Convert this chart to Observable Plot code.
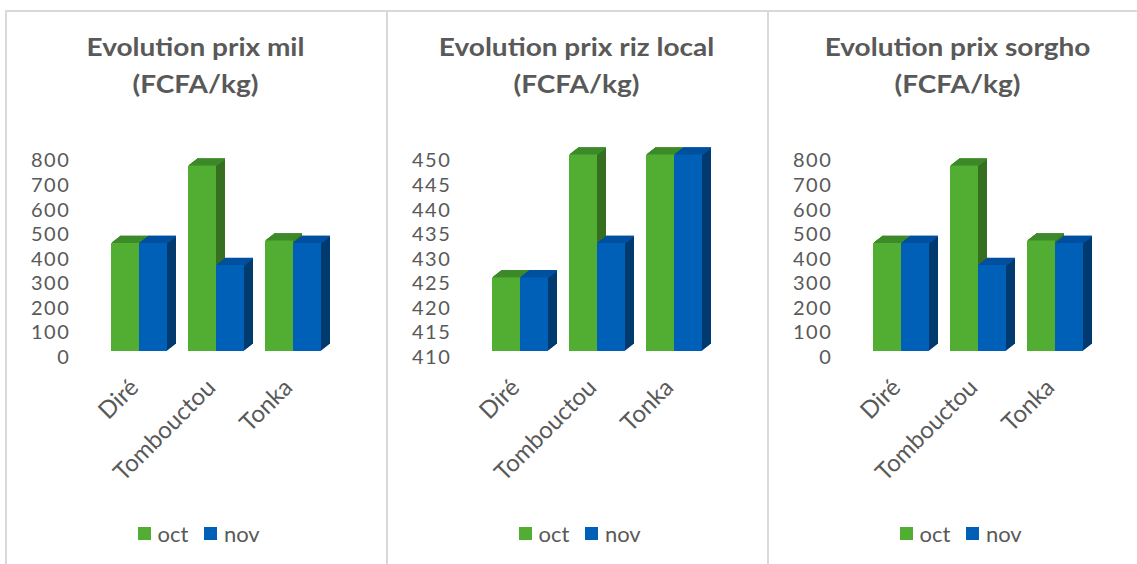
<!DOCTYPE html>
<html><head><meta charset="utf-8">
<script src="https://cdn.jsdelivr.net/npm/d3@7"></script>
<script src="https://cdn.jsdelivr.net/npm/@observablehq/plot@0.6"></script>
<style>
body{margin:0;background:#fff;width:1137px;height:564px;overflow:hidden;position:relative;font-family:Lato,sans-serif;}
.panel{position:absolute;top:10px;height:600px;width:381px;border-left:2px solid #d9d9d9;border-top:2px solid #d9d9d9;box-sizing:border-box;}
.title{position:absolute;top:28px;width:381px;text-align:center;font-weight:700;font-size:25px;line-height:37px;color:#595959;transform:scaleX(1.12);transform-origin:50% 50%;}
.chart{position:absolute;top:120px;width:381px;height:380px;}
.chart svg{overflow:visible;max-width:none;}
.chart svg g[aria-label="y-axis tick label"] text{letter-spacing:1.6px;}
.legend{position:absolute;top:520px;display:flex;align-items:center;font-size:22px;color:#595959;}
.sw{width:12.5px;height:12.5px;display:inline-block;margin-right:7px;}
.lab{margin-right:16px;}
</style></head><body>
<script>
const categories = ["Diré", "Tombouctou", "Tonka"];
const months = ["oct", "nov"];
const titles = [
  ["Evolution prix mil", "(FCFA/kg)"],
  ["Evolution prix riz local", "(FCFA/kg)"],
  ["Evolution prix sorgho", "(FCFA/kg)"]
];
const milOct = [440, 755, 450];
const milNov = [440, 350, 440];
const rizOct = [425, 450, 450];
const rizNov = [425, 432, 450];
const sorghoOct = [440, 755, 450];
const sorghoNov = [440, 350, 440];
const ticksPrix = [0, 100, 200, 300, 400, 500, 600, 700, 800];
const ticksRiz = [410, 415, 420, 425, 430, 435, 440, 445, 450];

const frontColor = {oct: "#52ad33", nov: "#0060b8"};
const topColor = {oct: "#3d8a2a", nov: "#0150a0"};
const sideColor = {oct: "#366f20", nov: "#003a6f"};

function makeChart(octVals, novVals, yTicks) {
  const data = [];
  categories.forEach((c, i) => {
    data.push({cat: c, month: "oct", value: octVals[i]});
    data.push({cat: c, month: "nov", value: novVals[i]});
  });
  const ymin = yTicks[0], ymax = yTicks[yTicks.length - 1];
  const N = 9, DX = 9, DY = 7;
  const marks = [];
  for (const m of months) {
    const sub = data.filter(d => d.month === m);
    for (let k = N; k >= 1; k--) {
      marks.push(Plot.barY(sub, {fx: "cat", x: "month", y1: () => ymin, y2: "value", fill: sideColor[m], dx: DX * k / N, dy: -DY * k / N}));
    }
    for (let k = 1; k <= N; k++) {
      marks.push(Plot.tickY(sub, {fx: "cat", x: "month", y: "value", stroke: topColor[m], strokeWidth: 1.6, dx: DX * k / N, dy: -DY * k / N}));
    }
    marks.push(Plot.barY(sub, {fx: "cat", x: "month", y1: () => ymin, y2: "value", fill: frontColor[m]}));
  }
  marks.push(Plot.axisY({ticks: yTicks, tickSize: 0, tickPadding: 41, dy: 6, label: null, fontSize: 20, tickFormat: d => String(d)}));
  marks.push(Plot.axisFx({anchor: "bottom", tickRotate: -45, tickSize: 0, tickPadding: 22, dx: -5, dy: 10, fontSize: 24, label: null}));
  return Plot.plot({
    width: 381,
    height: 380,
    marginLeft: 105,
    marginRight: 64,
    marginTop: 34.5,
    marginBottom: 149,
    style: {fontSize: "22px", fontFamily: "Lato, sans-serif", color: "#595959", background: "transparent"},
    x: {domain: months, padding: 0, axis: null},
    fx: {domain: categories, paddingInner: 0.27, paddingOuter: 0, axis: null},
    y: {domain: [ymin, ymax], axis: null},
    marks
  });
}

const series = [[milOct, milNov, ticksPrix], [rizOct, rizNov, ticksRiz], [sorghoOct, sorghoNov, ticksPrix]];
series.forEach((s, i) => {
  const left = 5 + 381 * i;
  const panel = document.createElement("div");
  panel.className = "panel";
  panel.style.left = left + "px";
  if (i === 2) panel.style.width = "400px";
  document.body.appendChild(panel);

  const t = document.createElement("div");
  t.className = "title";
  t.style.left = left + "px";
  t.innerHTML = titles[i][0] + "<br>" + titles[i][1];
  document.body.appendChild(t);

  const c = document.createElement("div");
  c.className = "chart";
  c.style.left = left + "px";
  c.appendChild(makeChart(s[0], s[1], s[2]));
  document.body.appendChild(c);

  const lg = document.createElement("div");
  lg.className = "legend";
  lg.style.left = (left + 133) + "px";
  months.forEach(m => {
    const sw = document.createElement("span");
    sw.className = "sw";
    sw.style.background = frontColor[m];
    const lb = document.createElement("span");
    lb.className = "lab";
    lb.textContent = m;
    lg.appendChild(sw); lg.appendChild(lb);
  });
  document.body.appendChild(lg);
});
</script>
</body></html>
